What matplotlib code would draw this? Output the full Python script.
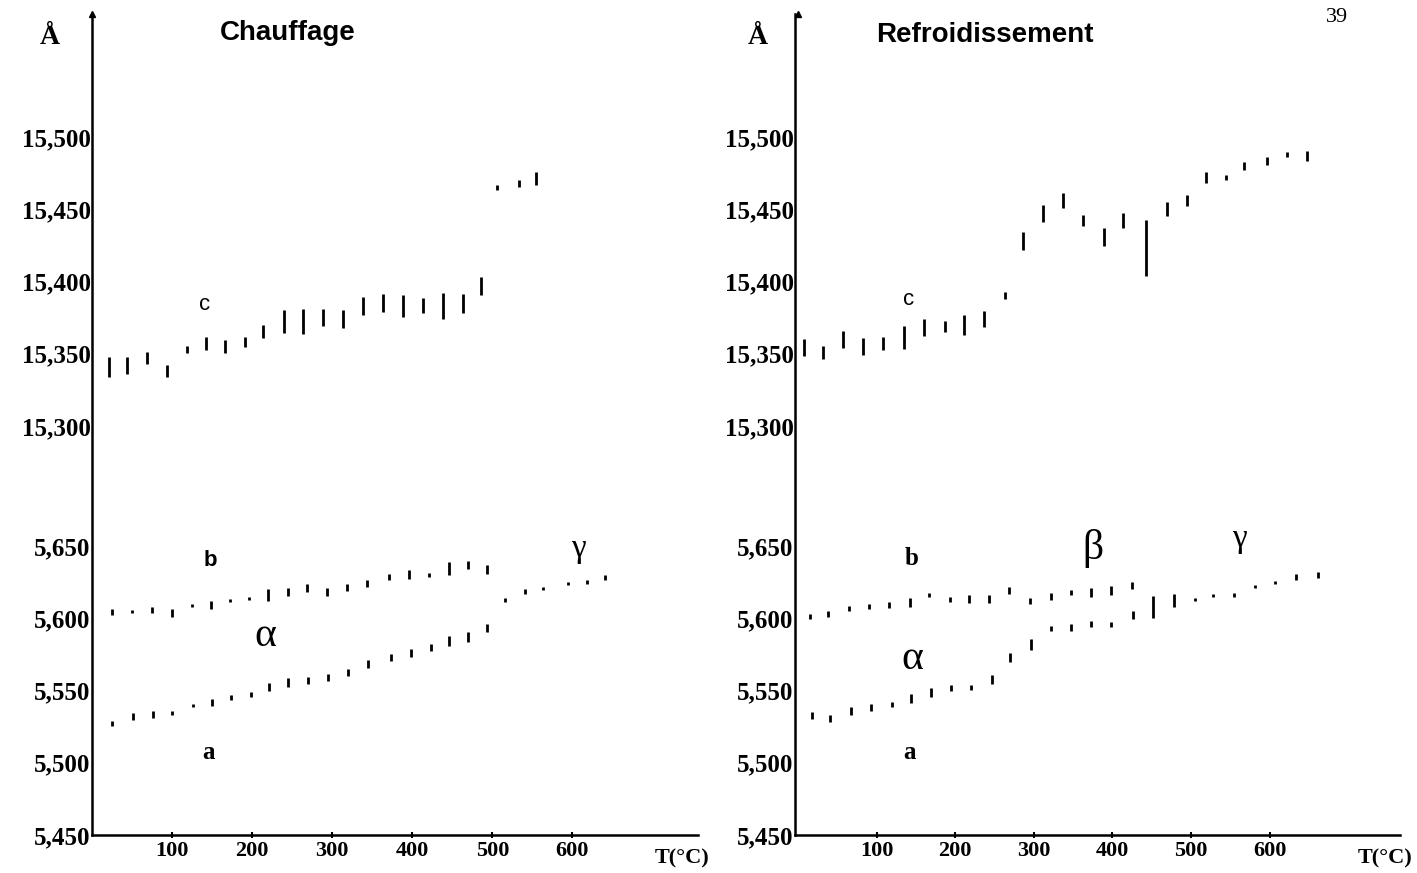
import numpy as np
import matplotlib
matplotlib.use("Agg")
import matplotlib.pyplot as plt

# ---- data (T in °C, lattice parameters in Å) ----
# Chauffage (heating)
heat_c_T = [21, 44, 69, 94, 119, 143, 166, 191, 214, 240, 264, 289, 313, 338, 364, 389, 414, 439, 463, 486, 506, 533, 555]
heat_c = [15.341, 15.342, 15.347, 15.338, 15.353, 15.357, 15.355, 15.358, 15.365, 15.372, 15.372, 15.375,
          15.374, 15.383, 15.385, 15.383, 15.383, 15.383, 15.385, 15.397, 15.465, 15.468, 15.471]
heat_c_err = [0.0069, 0.0059, 0.0042, 0.0042, 0.0024, 0.0042, 0.0045, 0.0035, 0.0045, 0.0080, 0.0087, 0.0059,
              0.0062, 0.0059, 0.0062, 0.0076, 0.0052, 0.0090, 0.0066, 0.0062, 0.0017, 0.0024, 0.0045]

heat_b_T = [25, 50, 75, 100, 125, 149, 173, 196, 220, 245, 269, 293, 319, 344, 371, 396, 421, 446, 470, 494]
heat_b = [5.6045, 5.6045, 5.6059, 5.6038, 5.6086, 5.6093, 5.6121, 5.6134, 5.6162, 5.6183, 5.6210, 5.6183,
          5.6210, 5.6238, 5.6286, 5.6300, 5.6300, 5.6341, 5.6369, 5.6334]
heat_b_err = [0.0021, 0.0010, 0.0021, 0.0028, 0.0010, 0.0028, 0.0010, 0.0010, 0.0042, 0.0028, 0.0028, 0.0028,
              0.0024, 0.0024, 0.0021, 0.0031, 0.0014, 0.0045, 0.0028, 0.0031]

heat_a_T = [25, 51, 76, 100, 126, 150, 174, 198, 221, 245, 270, 295, 320, 345, 373, 398, 423, 446, 470, 494]
heat_a = [5.5272, 5.5320, 5.5334, 5.5341, 5.5397, 5.5417, 5.5452, 5.5472, 5.5521, 5.5555, 5.5569, 5.5590,
          5.5624, 5.5686, 5.5728, 5.5762, 5.5797, 5.5845, 5.5872, 5.5934]
heat_a_err = [0.0017, 0.0024, 0.0024, 0.0014, 0.0010, 0.0024, 0.0017, 0.0017, 0.0028, 0.0028, 0.0024, 0.0024,
              0.0021, 0.0028, 0.0024, 0.0028, 0.0021, 0.0035, 0.0035, 0.0028]

heat_g_T = [516, 541, 564, 594, 618, 641]
heat_g = [5.6128, 5.6183, 5.6203, 5.6238, 5.6252, 5.6279]
heat_g_err = [0.0014, 0.0017, 0.0010, 0.0010, 0.0014, 0.0017]

# Refroidissement (cooling)
cool_c_T = [8, 32, 57, 83, 108, 135, 160, 187, 211, 237, 263, 286, 312, 337, 363, 389, 413, 443, 469, 495,
            519, 545, 567, 597, 622, 648]
cool_c = [15.354, 15.351, 15.360, 15.355, 15.357, 15.361, 15.368, 15.369, 15.370, 15.374, 15.390, 15.428,
          15.447, 15.456, 15.442, 15.431, 15.442, 15.423, 15.450, 15.456, 15.472, 15.472, 15.480, 15.483,
          15.4875, 15.487]
cool_c_err = [0.0059, 0.0045, 0.0059, 0.0059, 0.0042, 0.0080, 0.0059, 0.0038, 0.0069, 0.0052, 0.0024, 0.0062,
              0.0059, 0.0055, 0.0038, 0.0062, 0.0052, 0.0194, 0.0048, 0.0038, 0.0038, 0.0017, 0.0028, 0.0028,
              0.0017, 0.0035]

cool_b_T = [15, 38, 65, 90, 116, 142, 167, 193, 218, 243, 268, 295, 322, 347, 373, 398, 425]
cool_b = [5.6010, 5.6030, 5.6070, 5.6080, 5.6090, 5.6110, 5.6160, 5.6130, 5.6130, 5.6130, 5.6190, 5.6120,
          5.6150, 5.6176, 5.6180, 5.6190, 5.6224]
cool_b_err = [0.0017, 0.0021, 0.0017, 0.0017, 0.0021, 0.0031, 0.0014, 0.0017, 0.0028, 0.0028, 0.0024, 0.0021,
              0.0021, 0.0017, 0.0031, 0.0031, 0.0024]

cool_a_T = [17, 41, 67, 93, 120, 144, 169, 195, 220, 247, 270, 296, 322, 347, 373, 398, 426]
cool_a = [5.5328, 5.5307, 5.5355, 5.5383, 5.5403, 5.5445, 5.5486, 5.5520, 5.5520, 5.5576, 5.5728, 5.5817,
          5.5928, 5.5934, 5.5962, 5.5955, 5.6024]
cool_a_err = [0.0024, 0.0024, 0.0028, 0.0024, 0.0017, 0.0031, 0.0028, 0.0021, 0.0017, 0.0028, 0.0028, 0.0038,
              0.0017, 0.0024, 0.0021, 0.0017, 0.0028]

cool_g_T = [452, 478, 505, 528, 555, 581, 607, 634, 662]
cool_g = [5.6079, 5.6120, 5.6128, 5.6155, 5.6162, 5.6217, 5.6245, 5.6286, 5.6300]
cool_g_err = [0.0076, 0.0045, 0.0010, 0.0010, 0.0014, 0.0010, 0.0010, 0.0021, 0.0021]

y_ticks = [5.45, 5.50, 5.55, 5.60, 5.65, 15.30, 15.35, 15.40, 15.45, 15.50]
y_labels = ["5,450", "5,500", "5,550", "5,600", "5,650", "15,300", "15,350", "15,400", "15,450", "15,500"]
x_ticks = [100, 200, 300, 400, 500, 600]

# broken axis: lower block 5.45-5.65, upper block 15.30-15.50
GAP = 0.083


def fwd(v):
    v = np.asarray(v, dtype=float)
    return np.where(v > 10, v - 15.3 + 0.2 + GAP, v - 5.45)


def inv(y):
    y = np.asarray(y, dtype=float)
    return np.where(y > 0.2 + GAP / 2, y - 0.2 - GAP + 15.3, y + 5.45)


W, H = 1417, 873
fig = plt.figure(figsize=(W / 100, H / 100), dpi=100)
fig.patch.set_facecolor("white")

serif = "Liberation Serif"
sans = "Liberation Sans"


def make_panel(left_px, right_px, xlim, series, labels):
    ax = fig.add_axes([left_px / W, (H - 835) / H, (right_px - left_px) / W, (835 - 14) / H])
    ax.set_yscale("function", functions=(fwd, inv))
    ax.set_xlim(*xlim)
    ax.set_ylim(5.45, 15.585)
    for s in ["top", "right"]:
        ax.spines[s].set_visible(False)
    for s in ["left", "bottom"]:
        ax.spines[s].set_linewidth(1.8)
    # arrow heads
    ax.plot(1, 0, ">k", markersize=5, transform=ax.get_yaxis_transform(), clip_on=False)
    ax.plot(0, 1, "^k", markersize=5, transform=ax.get_xaxis_transform(), clip_on=False)

    ax.set_yticks(y_ticks)
    ax.set_yticklabels(y_labels)
    ax.minorticks_off()
    ax.tick_params(axis="y", length=0, pad=1)
    ax.set_xticks(x_ticks)
    ax.tick_params(axis="x", direction="inout", length=5, width=1.5, pad=2)
    for lab in ax.get_yticklabels():
        lab.set_fontfamily(serif)
        lab.set_fontweight("bold")
        lab.set_fontsize(18)
    for lab in ax.get_xticklabels():
        lab.set_fontfamily(serif)
        lab.set_fontweight("bold")
        lab.set_fontsize(16)

    for T, v, e in series:
        ax.errorbar(T, v, yerr=e, fmt="none", ecolor="black", elinewidth=2.0, capsize=0)

    for txt, T, v, fam, size, weight in labels:
        ax.text(T, v, txt, family=fam, fontsize=size, fontweight=weight, ha="center", va="center")
    return ax


heat_series = [(heat_c_T, heat_c, heat_c_err), (heat_b_T, heat_b, heat_b_err),
               (heat_a_T, heat_a, heat_a_err), (heat_g_T, heat_g, heat_g_err)]
heat_labels = [("c", 141, 15.384, sans, 16, "normal"),
               ("b", 148, 5.640, sans, 16, "bold"),
               ("α", 216, 5.588, serif, 30, "normal"),
               ("a", 145, 5.507, serif, 18, "bold"),
               ("γ", 608, 5.648, serif, 24, "normal")]
make_panel(92, 698, (0, 757), heat_series, heat_labels)

cool_series = [(cool_c_T, cool_c, cool_c_err), (cool_b_T, cool_b, cool_b_err),
               (cool_a_T, cool_a, cool_a_err), (cool_g_T, cool_g, cool_g_err)]
cool_labels = [("c", 140, 15.3875, sans, 16, "normal"),
               ("b", 145, 5.641, serif, 18, "bold"),
               ("β", 375, 5.648, serif, 30, "normal"),
               ("γ", 562, 5.655, serif, 24, "normal"),
               ("α", 145, 5.572, serif, 30, "normal"),
               ("a", 142, 5.507, serif, 18, "bold")]
make_panel(795, 1400, (-4, 766), cool_series, cool_labels)

# titles, axis symbols, page number
fig.text(288 / W, 1 - 33 / H, "Chauffage", family=sans, fontsize=20, fontweight="bold", ha="center", va="center")
fig.text(985 / W, 1 - 35 / H, "Refroidissement", family=sans, fontsize=20, fontweight="bold", ha="center", va="center")
fig.text(50 / W, 1 - 38 / H, "Å", family=serif, fontsize=20, fontweight="bold", ha="center", va="center")
fig.text(758 / W, 1 - 38 / H, "Å", family=serif, fontsize=20, fontweight="bold", ha="center", va="center")
fig.text(682 / W, 1 - 858 / H, "T(°C)", family=serif, fontsize=16, fontweight="bold", ha="center", va="center")
fig.text(1385 / W, 1 - 858 / H, "T(°C)", family=serif, fontsize=16, fontweight="bold", ha="center", va="center")
fig.text(1337 / W, 1 - 17 / H, "39", family=serif, fontsize=16, ha="center", va="center")

fig.savefig("out.png", dpi=100, facecolor="white")
